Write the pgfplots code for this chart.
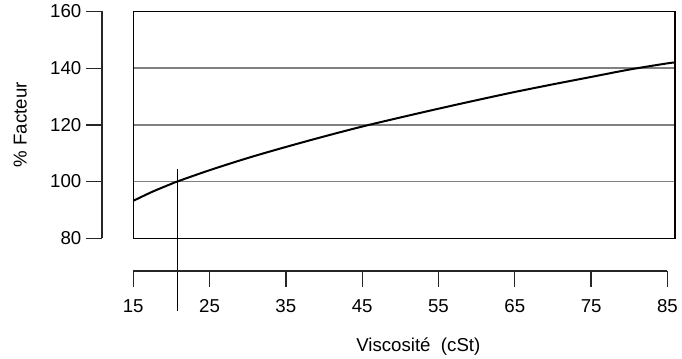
\documentclass[border=0pt]{standalone}
\usepackage{fontspec}
\setmainfont{Liberation Sans}
\usepackage{pgfplots}
\pgfplotsset{compat=1.18}

\begin{document}
\begin{tikzpicture}[font=\fontsize{14}{16}\selectfont]
  % plot box with grid and curve
  \begin{axis}[
      name=main,
      scale only axis,
      width=406.35pt, height=170.1pt,
      at={(0,0)}, anchor=south west,
      xmin=15, xmax=86, ymin=80, ymax=160,
      xtick=\empty,
      ytick={100,120,140}, yticklabels={},
      major tick length=0pt,
      ymajorgrids,
      grid style={gray, line width=1.2pt},
      axis line style={black, line width=1pt},
      clip=false,
    ]
    \addplot[black, line width=1.5pt, smooth] coordinates {
      (15,93.2) (17.5,96.4) (20,99.2) (20.75,100) (25,104.0) (30,108.3)
      (35,112.2) (40,115.9) (45,119.4) (50,122.6) (55,125.7) (60,128.7)
      (65,131.6) (70,134.3) (75,136.9) (80,139.5) (85,141.7) (86,142.0)
    };
    \addplot[black, line width=0.75pt] coordinates {(20.75,104.3) (20.75,54.4)};
    \node[rotate=90, anchor=center] at (axis cs:0.2,120) {\% Facteur};
  \end{axis}

  % detached x axis
  \begin{axis}[
      scale only axis,
      width=400.7pt, height=10pt,
      at={(0,-24.5pt)}, anchor=south west,
      xmin=15, xmax=85, ymin=0, ymax=1,
      axis x line*=bottom, axis y line=none,
      xtick={15,25,...,85},
      tick align=outside, major tick length=12pt,
      tick style={black!85, line width=1pt},
      axis line style={black!85, line width=1.2pt},
      xticklabel style={/pgf/number format/assume math mode=true, yshift=-6pt},
      xlabel={Viscosité\ \ (cSt)},
      xlabel style={at={(axis description cs:0.5,0)}, anchor=center, yshift=-57pt, xshift=13.5pt},
    ]
  \end{axis}

  % detached y axis
  \begin{axis}[
      scale only axis,
      width=10pt, height=170.1pt,
      at={(-23.4pt,0)}, anchor=south west,
      xmin=0, xmax=1, ymin=80, ymax=160,
      axis y line*=left, axis x line=none,
      ytick={80,100,...,160},
      tick align=outside, major tick length=12pt,
      tick style={black!85, line width=1pt},
      axis line style={black!85, line width=1.2pt},
      yticklabel style={/pgf/number format/assume math mode=true},
    ]
  \end{axis}

  \pgfresetboundingbox
  \path (-99.9pt,-89.8pt) rectangle (411.6pt,178.7pt);
\end{tikzpicture}
\end{document}
